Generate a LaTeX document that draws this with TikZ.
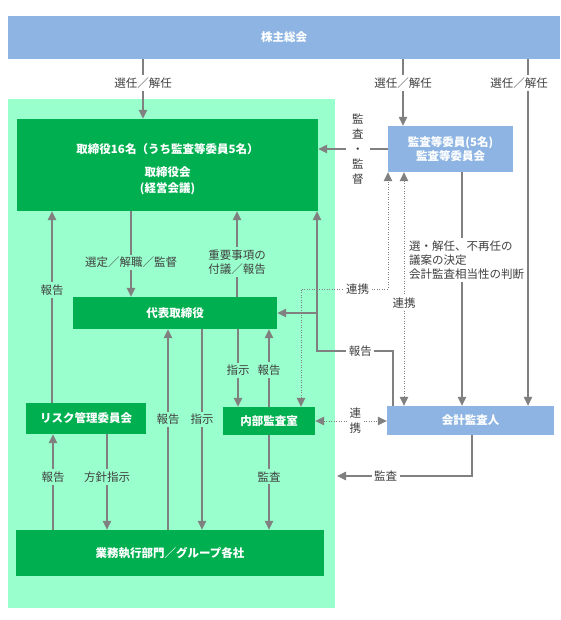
\documentclass[tikz,border=0pt]{standalone}
\usepackage{fontspec}
\setmainfont{Noto Sans CJK JP}
\usetikzlibrary{arrows.meta, calc}
\definecolor{kabublue}{RGB}{141,180,226}
\definecolor{bggreen}{RGB}{153,255,204}
\definecolor{boxgreen}{RGB}{0,176,80}
\definecolor{arrowgray}{RGB}{128,128,128}
\definecolor{labelgray}{RGB}{64,64,64}

\begin{document}
\begin{tikzpicture}[x=1pt, y=-1pt,
  font=\fontsize{11.5}{14}\selectfont,
  greenbox/.style={fill=boxgreen, text=white, font=\fontsize{11.5}{14}\selectfont\bfseries, inner sep=0pt},
  bluebox/.style={fill=kabublue, text=white, font=\fontsize{11.5}{14}\selectfont\bfseries, inner sep=0pt},
  arr/.style={arrowgray, line width=1.2pt, -{Triangle[length=9pt, width=8.5pt]}},
  dbl/.style={arrowgray, line width=1pt, dash pattern=on 1pt off 1.5pt,
    {Triangle[length=9pt, width=8.5pt]}-{Triangle[length=9pt, width=8.5pt]}},
  lbl/.style={fill=white, text=labelgray, inner sep=2.5pt},
  glbl/.style={lbl, fill=bggreen}]
\useasboundingbox (0,0) rectangle (560,620);

\fill[bggreen] (8,99) rectangle (335,608);

\node[bluebox, minimum width=552pt, minimum height=43pt] (soukai) at (284,37.5) {株主総会};
\node[greenbox, minimum width=301pt, minimum height=92pt, align=center,
  font=\fontsize{11.5}{16}\selectfont\bfseries] (torishimari) at (167.5,165)
  {\rule{0pt}{19pt}取締役16名（うち監査等委員5名）\\[7pt]取締役会\\(経営会議)};
\node[greenbox, minimum width=204pt, minimum height=32pt] (daihyo) at (175,313) {代表取締役};
\node[greenbox, minimum width=120pt, minimum height=31pt] (risk) at (86,418.5) {リスク管理委員会};
\node[greenbox, minimum width=92pt, minimum height=28pt] (naibu) at (269,421) {内部監査室};
\node[greenbox, minimum width=308pt, minimum height=46pt] (gyomu) at (170,553) {業務執行部門／グループ各社};
\node[bluebox, minimum width=125pt, minimum height=46pt, align=center] (kansa) at (450.5,149)
  {監査等委員(5名)\\監査等委員会};
\node[bluebox, minimum width=167pt, minimum height=29pt] (kaikei) at (470.5,420.5) {会計監査人};

\draw[arr] (143,0 |- soukai.south) -- node[lbl, pos=0.4]{選任／解任} (143,0 |- torishimari.north);
\draw[arr] (403,0 |- soukai.south) -- node[lbl, pos=0.36]{選任／解任} (403,0 |- kansa.north);

\draw[arr] (kansa.west) -- node[lbl, pos=0.43, inner xsep=6.5pt, align=center, font=\fontsize{11.5}{15}\selectfont]
  {監\\査\\・\\監\\督} (torishimari.east |- kansa.west);

\draw[arr] (462,0 |- kansa.south) -- (462,0 |- kaikei.north);
\node[lbl, anchor=west, align=left] (kettei) at (406.5,260)
  {選・解任、不再任の\\議案の決定\\会計監査相当性の判断};
\draw[arr] (528,0 |- soukai.south) -- (528,0 |- kaikei.north);
\node[lbl] (sennin) at (519,83) {選任／解任};

\draw[dbl] (301,0 |- naibu.north) -- (301,289) -- node[lbl, pos=0.65]{連携} (388,289) -- (388,0 |- kansa.south);
\draw[dbl] (404,0 |- kansa.south) -- node[lbl, pos=0.56]{連携} (404,0 |- kaikei.north);
\draw[dbl] (naibu.east) -- node[lbl, pos=0.56, align=center, font=\fontsize{11.5}{15}\selectfont]
  {連\\携} (kaikei.west |- naibu.east);

\draw[arr] (393,0 |- kaikei.north) -- (393,351) -- node[lbl, pos=0.43]{報告} (317,351) -- (317,0 |- torishimari.south);
\coordinate (branch) at (317,0 |- daihyo.east);
\draw[arr] (branch) -- (daihyo.east);

\coordinate (kansaend) at (337,476);
\draw[arr] (472,0 |- kaikei.south) -- (472,476) -- node[lbl, pos=0.64]{監査} (kansaend);

\draw[arr] (131,0 |- torishimari.south) -- node[glbl, pos=0.6]{選定／解職／監督} (131,0 |- daihyo.north);
\draw[arr] (237,0 |- daihyo.north) -- node[glbl, pos=0.41, align=center]{重要事項の\\付議／報告} (237,0 |- torishimari.south);
\draw[arr] (52,0 |- risk.north) -- node[glbl, pos=0.59]{報告} (52,0 |- torishimari.south);
\draw[arr] (238,0 |- daihyo.south) -- node[glbl, pos=0.53]{指示} (238,0 |- naibu.north);
\draw[arr] (269,0 |- naibu.north) -- node[glbl, pos=0.47]{報告} (269,0 |- daihyo.south);
\draw[arr] (168,0 |- gyomu.north) -- node[glbl, pos=0.55]{報告} (168,0 |- daihyo.south);
\draw[arr] (202,0 |- daihyo.south) -- node[glbl, pos=0.45]{指示} (202,0 |- gyomu.north);
\draw[arr] (53,0 |- gyomu.north) -- node[glbl, pos=0.55]{報告} (53,0 |- risk.south);
\draw[arr] (107,0 |- risk.south) -- node[glbl, pos=0.45]{方針指示} (107,0 |- gyomu.north);
\draw[arr] (269,0 |- naibu.south) -- node[glbl, pos=0.44]{監査} (269,0 |- gyomu.north);
\end{tikzpicture}
\end{document}
